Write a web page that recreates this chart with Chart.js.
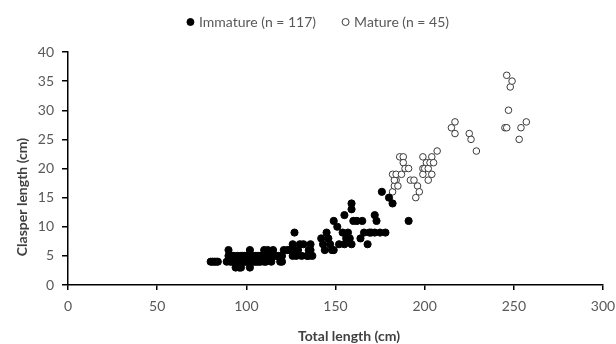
<!DOCTYPE html>
<html>
<head>
<meta charset="utf-8">
<script src="https://cdn.jsdelivr.net/npm/chart.js@4.4.1/dist/chart.umd.min.js"></script>
<style>
  html, body { margin: 0; padding: 0; background: #fff; }
  #wrap { width: 616px; height: 344px; position: relative; }
</style>
</head>
<body>
<div id="wrap"><canvas id="c"></canvas></div>
<script>
// Clasper length vs total length, two maturity groups.
const immatureX = [80, 81, 82, 83, 84,
  89, 90, 90, 91, 92, 93, 93, 94, 94, 95, 96, 96, 97, 97, 98, 99, 100, 100, 101, 102,
  102, 102, 103, 104, 104, 105, 106, 106, 107, 108, 109, 110, 110, 111, 112, 113, 114, 115, 116, 118,
  119, 120, 120,
  123, 125, 126, 126, 127, 127, 129, 130, 131, 134, 135, 135, 136, 136, 137,
  142, 143, 144, 145, 146, 147, 148, 149, 149, 151, 152, 154, 155, 155, 156, 157, 158, 159, 159, 159,
  160, 162, 164, 165, 166, 168, 169, 170, 172, 172, 173, 175, 176, 178, 180, 182, 191,
  92, 95, 98, 99, 101, 103, 105, 107, 108, 111, 112, 114, 117, 121, 124, 128, 132];
const immatureY = [4, 4, 4, 4, 4,
  4, 6, 5, 4, 5, 4, 5, 3, 4, 5, 3, 4, 3, 5, 4, 5, 4, 5, 5, 6,
  3, 4, 5, 4, 5, 5, 4, 5, 5, 4, 5, 6, 4, 5, 6, 5, 5, 6, 5, 5,
  4, 4, 5,
  6, 6, 5, 7, 9, 6, 6, 7, 5, 5, 6, 5, 7, 6, 5,
  8, 7, 6, 9, 8, 7, 6, 6, 11, 10, 7, 9, 12, 7, 8, 9, 8, 7, 14, 13,
  11, 11, 8, 11, 9, 7, 9, 9, 9, 12, 11, 9, 16, 9, 15, 14, 11,
  4, 4, 5, 4, 4, 4, 4, 4, 5, 4, 5, 4, 5, 6, 6, 5, 7];

const matureX = [182, 183, 184, 183, 182, 184, 187, 186, 188, 188, 189, 191, 185, 192, 194,
  196, 197, 195, 199, 199, 199, 200, 201, 202, 202, 203, 204, 204, 205, 207,
  215, 217, 217, 225, 226, 229, 245, 246, 246, 247, 248, 249, 253, 254, 257];
const matureY = [16, 17, 18, 18, 19, 19, 19, 22, 22, 21, 20, 20, 17, 18, 18,
  17, 16, 15, 22, 20, 19, 20, 21, 18, 20, 21, 19, 22, 21, 23,
  27, 28, 26, 26, 25, 23, 27, 27, 36, 30, 34, 35, 25, 27, 28];

const seriesLabels = ['Immature (n = 117)', 'Mature (n = 45)'];
const xTitle = 'Total length (cm)';
const yTitle = 'Clasper length (cm)';
const xTicks = [0, 50, 100, 150, 200, 250, 300];
const yTicks = [0, 5, 10, 15, 20, 25, 30, 35, 40];

const FONT = "Lato, 'Open Sans', sans-serif";
const TEXT = '#595959';

const pts = (xs, ys) => xs.map((x, i) => ({ x, y: ys[i] }));

// legend + axis titles drawn by hand so they sit where the reference has them
const extras = {
  id: 'extras',
  afterDraw(chart) {
    const ctx = chart.ctx;
    ctx.save();
    ctx.font = '14px ' + FONT;
    ctx.textBaseline = 'middle';
    ctx.fillStyle = TEXT;
    const ds = chart.data.datasets;
    const r = 3.5, gapIcon = 5, gapItem = 26;
    const widths = seriesLabels.map(t => ctx.measureText(t).width);
    const total = widths.reduce((a, w) => a + w + 2 * r + gapIcon, 0) + gapItem;
    let x = 318 - total / 2;
    const y = 22;
    seriesLabels.forEach((t, i) => {
      ctx.beginPath();
      ctx.arc(x + r, y, r, 0, Math.PI * 2);
      ctx.fillStyle = ds[i].backgroundColor;
      ctx.fill();
      ctx.lineWidth = 1;
      ctx.strokeStyle = ds[i].borderColor;
      ctx.stroke();
      ctx.fillStyle = TEXT;
      ctx.fillText(t, x + 2 * r + gapIcon, y);
      x += 2 * r + gapIcon + widths[i] + gapItem;
    });

    ctx.font = 'bold 14px ' + FONT;
    ctx.fillStyle = '#404040';
    ctx.textAlign = 'center';
    ctx.fillText(xTitle, 349, 336);
    ctx.translate(22, 197);
    ctx.rotate(-Math.PI / 2);
    ctx.fillText(yTitle, 0, 0);
    ctx.restore();
  }
};

new Chart(document.getElementById('c'), {
  type: 'scatter',
  data: {
    datasets: [
      {
        label: seriesLabels[0],
        data: pts(immatureX, immatureY),
        backgroundColor: '#000',
        borderColor: '#000',
        borderWidth: 1,
        pointRadius: 3.6,
      },
      {
        label: seriesLabels[1],
        data: pts(matureX, matureY),
        backgroundColor: '#fff',
        borderColor: '#3a3a3a',
        borderWidth: 1,
        pointRadius: 3.3,
      },
    ],
  },
  options: {
    responsive: true,
    maintainAspectRatio: false,
    animation: false,
    layout: { padding: { left: 20, right: 13, top: 52, bottom: 0 } },
    plugins: {
      legend: { display: false },
      tooltip: { enabled: false },
    },
    scales: {
      x: {
        type: 'linear',
        min: 0,
        max: 300,
        afterBuildTicks: s => { s.ticks = xTicks.map(v => ({ value: v })); },
        afterFit: s => { s.height = 59; s.paddingRight = 0; s.paddingLeft = 0; },
        grid: { display: true, drawOnChartArea: false, drawTicks: true, tickLength: 5, color: '#000', lineWidth: 1.5 },
        border: { color: '#000', width: 1.5 },
        ticks: { color: TEXT, font: { family: FONT, size: 14 }, padding: 8, maxRotation: 0 },
      },
      y: {
        min: 0,
        max: 40,
        afterBuildTicks: s => { s.ticks = yTicks.map(v => ({ value: v })); },
        afterFit: s => { s.width = 48; s.paddingTop = 0; s.paddingBottom = 0; },
        grid: { display: true, drawOnChartArea: false, drawTicks: true, tickLength: 6, color: '#000', lineWidth: 1.5 },
        border: { color: '#000', width: 1.5 },
        ticks: { color: TEXT, font: { family: FONT, size: 14 }, padding: 8 },
      },
    },
  },
  plugins: [extras],
});
</script>
</body>
</html>
